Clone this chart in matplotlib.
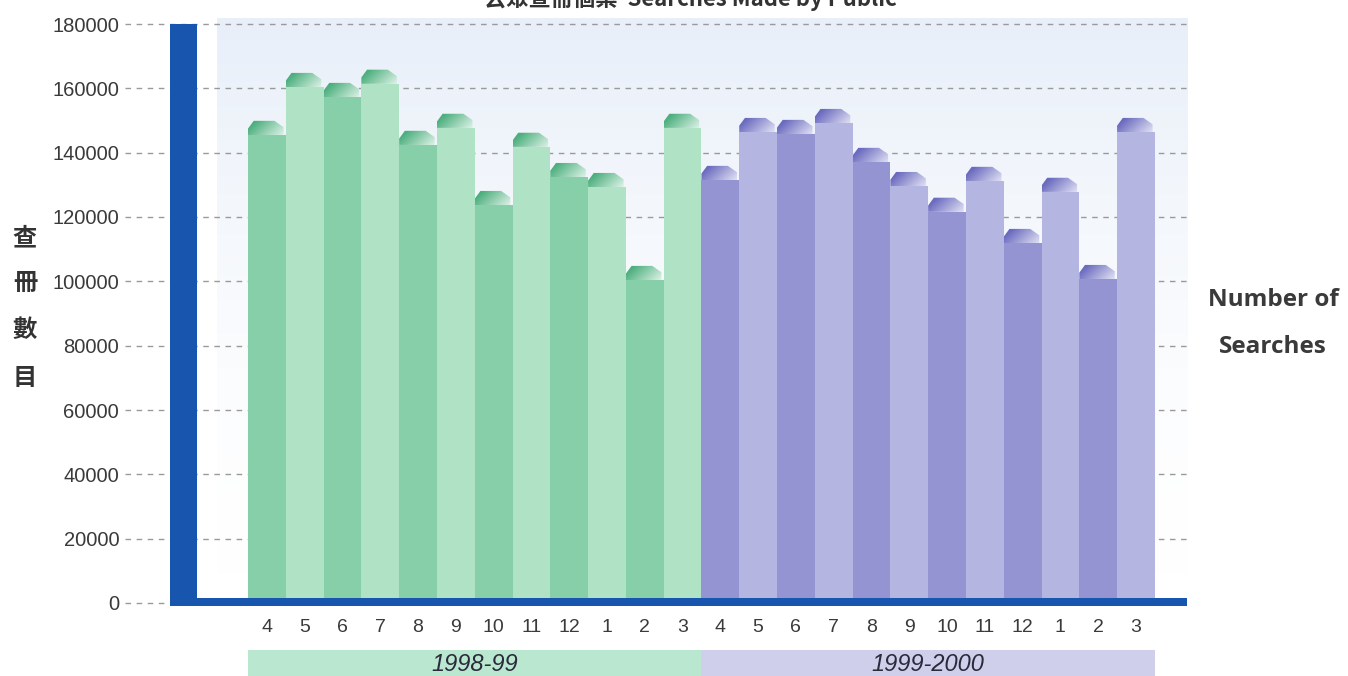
"""
Monthly searches made by the public, 1998-99 vs 1999-2000.
Bar chart with bevelled caps, drawn into out.png.
"""
import numpy as np
import matplotlib

matplotlib.use('Agg')
import matplotlib.pyplot as plt
from matplotlib.colors import LinearSegmentedColormap
from matplotlib.patches import Polygon, Rectangle

W, H = 1348, 676

# --- data ---
months = ['4', '5', '6', '7', '8', '9', '10', '11', '12', '1', '2', '3']
years = ['1998-99', '1999-2000']
searches_9899 = [145500, 160400, 157300, 161400, 142400, 147700,
                 123700, 141800, 132400, 129300, 100400, 147700]
searches_9900 = [131500, 146400, 145800, 149200, 137100, 129600,
                 121600, 131200, 111900, 127800, 100700, 146400]
y_ticks = [0, 20000, 40000, 60000, 80000, 100000, 120000, 140000, 160000, 180000]

# --- styling ---
BLUE = '#1755ae'
GREEN_DARK, GREEN_LIGHT = '#86cfa8', '#b0e2c6'
PURPLE_DARK, PURPLE_LIGHT = '#9494d2', '#b5b5e1'
GREEN_BAND, PURPLE_BAND = '#b9e7cf', '#cfcfec'
CAP_H = 4400  # height of the bevelled cap sitting on top of each bar

green_cap = LinearSegmentedColormap.from_list('gcap', ['#e4f5ec', '#4daf7e'])
purple_cap = LinearSegmentedColormap.from_list('pcap', ['#e6e6f6', '#6a6abf'])


def cap_shading(n=60, m=20):
    u = np.linspace(0, 1, n)[None, :]
    w = np.linspace(1, 0, m)[:, None]  # row 0 is the top of the cap
    return np.clip((1 - u) * 0.85 + w * 0.35, 0, 1)


fig = plt.figure(figsize=(W / 100, H / 100), dpi=100)
ax = fig.add_axes([197 / W, 1 - 603 / H, 990 / W, 579 / H])
for s in ax.spines.values():
    s.set_visible(False)

# pale blue wash behind the plot area
wash = np.linspace(0, 1, 100)[:, None] ** 1.8
wash_cmap = LinearSegmentedColormap.from_list('wash', ['#ffffff', '#e8eff9'])
ax.imshow(wash, cmap=wash_cmap, aspect='auto', extent=[0.02, 1, 0, 1.01],
          origin='lower', transform=ax.transAxes, zorder=0, clip_on=False)

# dashed gridlines, running out past the blue frame to the tick labels
for t in y_ticks:
    ax.axhline(t, xmin=-0.0727, xmax=1.0, color='#9a9a9a', lw=1.0,
               ls=(0, (4, 4)), zorder=1, clip_on=False)

values = searches_9899 + searches_9900
shade = cap_shading()
for i, v in enumerate(values):
    first = i < 12
    dark = i % 2 == 0
    if first:
        body = GREEN_DARK if dark else GREEN_LIGHT
        cmap = green_cap
    else:
        body = PURPLE_DARK if dark else PURPLE_LIGHT
        cmap = purple_cap
    l, r = i - 0.5, i + 0.5
    ax.bar(i, v, width=1.0, color=body, edgecolor='none', zorder=3)
    top = v + CAP_H
    pts = [(l, v), (l, v + CAP_H * 0.45), (l + 0.15, top), (r - 0.3, top),
           (r - 0.06, v + CAP_H * 0.55), (r - 0.06, v)]
    poly = Polygon(pts, closed=True, facecolor='none', edgecolor='none', zorder=4)
    ax.add_patch(poly)
    im = ax.imshow(shade, cmap=cmap, vmin=0, vmax=1, aspect='auto',
                   extent=[l, r, v, top], zorder=4, interpolation='bilinear')
    im.set_clip_path(poly)

ax.set_xlim(-1.85, 24.35)
ax.set_ylim(0, 180000)

# blue frame on the left and bottom
ax.add_patch(Rectangle((-0.0273, -0.005), 0.0273, 1.005, transform=ax.transAxes,
                       facecolor=BLUE, edgecolor='none', zorder=6, clip_on=False))
ax.add_patch(Rectangle((-0.0273, -0.0052), 1.0273, 0.0138, transform=ax.transAxes,
                       facecolor=BLUE, edgecolor='none', zorder=6, clip_on=False))

ax.set_xticks([])
ax.set_yticks(y_ticks)
ax.set_yticklabels([str(t) for t in y_ticks], fontsize=14.5, color='#3a3a3a',
                   family='Liberation Sans')
ax.tick_params(axis='y', length=0, pad=56)

# month labels under each bar
xt = ax.get_xaxis_transform()
for i, m in enumerate(months * 2):
    ax.text(i, -0.043, m, transform=xt, ha='center', va='center', fontsize=14,
            color='#3a3a3a', family='Liberation Sans')

# financial-year bands
for k, (name, col) in enumerate(zip(years, [GREEN_BAND, PURPLE_BAND])):
    x0 = k * 12 - 0.5
    ax.add_patch(Rectangle((x0, -0.14), 12, 0.059, transform=xt, facecolor=col,
                           edgecolor='none', clip_on=False, zorder=2))
    ax.text(x0 + 6, -0.107, name, transform=xt, ha='center', va='center',
            fontsize=17, style='italic', color='#2a2a3a', family='Liberation Sans')

# axis titles
for ch, yp in zip('查冊數目', [238, 283, 330, 378]):
    fig.text(25 / W, 1 - yp / H, ch, ha='center', va='center', fontsize=17.5,
             fontweight='bold', color='#333333', family=['Noto Sans CJK TC'])
fig.text(1273 / W, 1 - 300 / H, 'Number of', ha='center', va='center',
         fontsize=17.5, fontweight='bold', color='#3a3a3a', family='Open Sans')
fig.text(1273 / W, 1 - 347 / H, 'Searches', ha='center', va='center',
         fontsize=17.5, fontweight='bold', color='#3a3a3a', family='Open Sans')

fig.text(690 / W, 1 - 6 / H, '公眾查冊個案  Searches Made by Public', ha='center',
         va='baseline', fontsize=16, fontweight='bold', color='#333333',
         family=['Noto Sans CJK TC', 'DejaVu Sans'])

fig.savefig('out.png', dpi=100)
